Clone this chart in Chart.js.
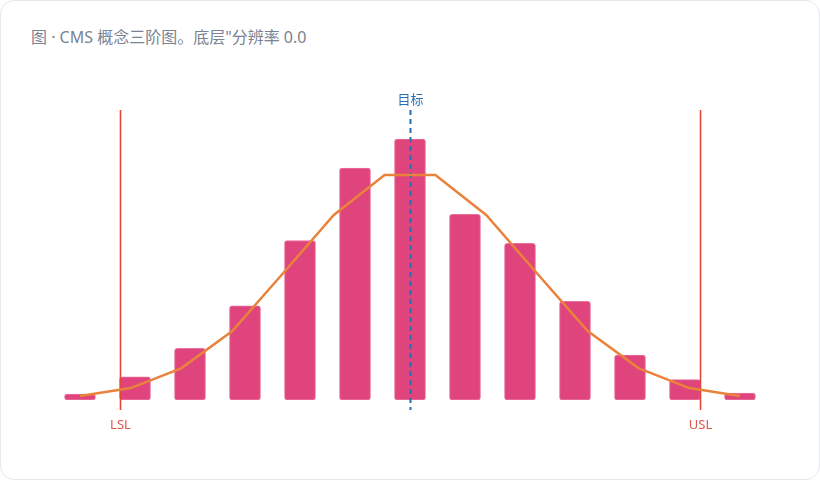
<!DOCTYPE html>
<html>
<head>
<meta charset="utf-8">
<title>CMS 概念三阶图</title>
<style>
  html, body { margin: 0; padding: 0; background: #ffffff; }
  .card {
    position: absolute; left: 0; top: 0; width: 818px; height: 478px;
    border: 1px solid #e6e8ec; border-radius: 14px; background: #fff; overflow: hidden;
  }
  .title {
    position: absolute; left: 30px; top: 23px;
    font: 16px "Noto Sans", "Noto Sans CJK SC", sans-serif; color: #7a8391;
  }
  canvas { position: absolute; left: -1px; top: -1px; }
</style>
</head>
<body>
<div class="card">
  <div class="title">图 · CMS 概念三阶图。底层"分辨率 0.0</div>
  <canvas id="chart" width="820" height="480"></canvas>
</div>
<script src="https://cdn.jsdelivr.net/npm/chart.js@4/dist/chart.umd.min.js"></script>
<script>
// histogram bins (index along the measurement axis) and counts
const binX = [0, 1, 2, 3, 4, 5, 6, 7, 8, 9, 10, 11, 12];
const binCounts = [2, 8, 17.8, 32.5, 55, 80, 90, 64, 54, 34, 15.5, 7, 2.4];

// fitted curve samples
const curveX = [0, 0.923, 1.846, 2.769, 3.692, 4.615, 5.538, 6.462, 7.385, 8.308, 9.231, 10.154, 11.077, 12];
const curveY = [1.4, 4.1, 11, 23.8, 43.7, 63.8, 77.6, 77.6, 63.8, 43.7, 23.8, 11, 4.1, 1.4];

// specification markers
const specNames = ['LSL', '目标', 'USL'];
const specValues = [0.727, 6, 11.273];
const specColors = ['#e2463b', '#2271b8', '#e2463b'];

var specPlugin = {
  id: 'specLines',
  afterDatasetDraw(chart, args) {
    if (args.meta.type !== 'bar') return;
    const ctx = chart.ctx;
    const x = chart.scales.x;
    const area = chart.chartArea;
    ctx.save();
    specNames.forEach((name, i) => {
      const px = Math.round(x.getPixelForValue(specValues[i])) + 0.5;
      const isTarget = name === '目标';
      ctx.beginPath();
      ctx.strokeStyle = specColors[i];
      ctx.lineWidth = isTarget ? 2 : 1.6;
      ctx.setLineDash(isTarget ? [5, 4] : []);
      ctx.moveTo(px, area.top);
      ctx.lineTo(px, area.bottom + 10);
      ctx.stroke();
      ctx.setLineDash([]);
      ctx.fillStyle = isTarget ? '#2a6fb5' : '#e0554b';
      ctx.font = '13px "Noto Sans", "Noto Sans CJK SC", sans-serif';
      ctx.textAlign = 'center';
      ctx.textBaseline = 'middle';
      if (isTarget) {
        ctx.fillText(name, px, area.top - 10);
      } else {
        ctx.fillText(name, px, area.bottom + 25);
      }
    });
    ctx.restore();
  }
};

var ctx = document.getElementById('chart').getContext('2d');
var chart = new Chart(ctx, {
  data: {
    datasets: [{
      type: 'line',
      label: '拟合曲线',
      data: curveX.map((v, i) => ({ x: v, y: curveY[i] })),
      borderColor: '#e9833b',
      borderWidth: 2.5,
      pointRadius: 0,
      tension: 0,
      fill: false,
      order: 0
    }, {
      type: 'bar',
      label: '频数',
      data: binX.map((v, i) => ({ x: v, y: binCounts[i] })),
      backgroundColor: '#df457c',
      borderColor: '#e8709b',
      borderWidth: 1,
      borderRadius: 3,
      borderSkipped: false,
      barThickness: 31,
      order: 1
    }]
  },
  options: {
    responsive: false,
    animation: false,
    layout: { padding: { left: 52.5, right: 52.5, top: 110, bottom: 80 } },
    plugins: { legend: { display: false }, tooltip: { enabled: false } },
    scales: {
      x: { type: 'linear', min: -0.5, max: 12.5, offset: false, display: false },
      y: { min: 0, max: 100, display: false }
    }
  },
  plugins: [specPlugin]
});
</script>
</body>
</html>
